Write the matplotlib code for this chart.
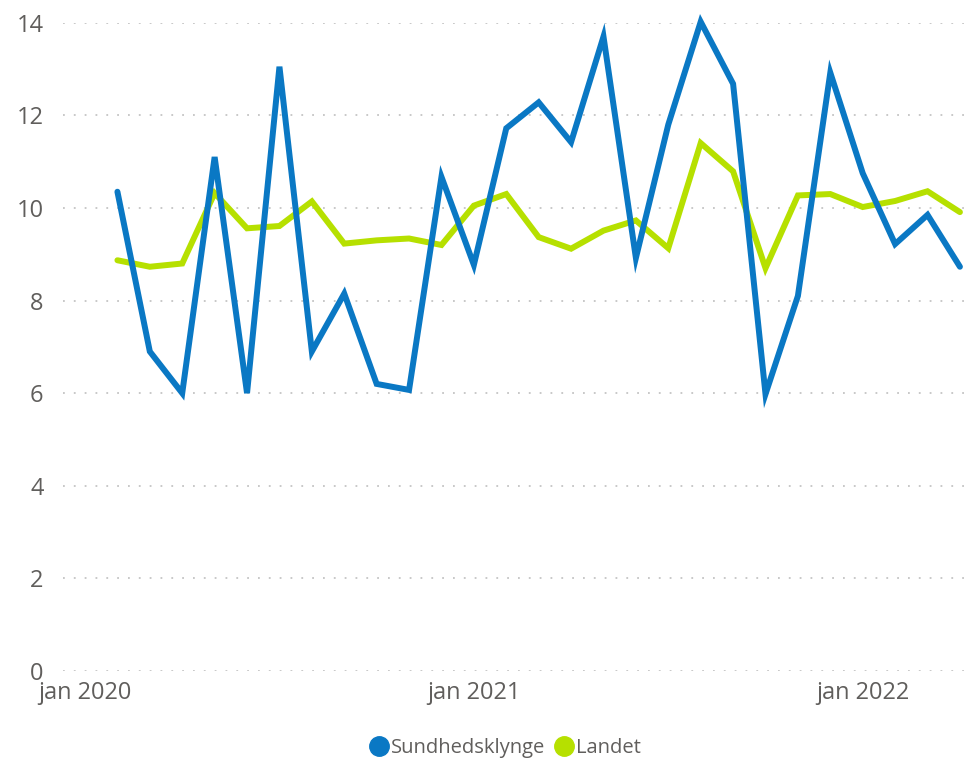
import matplotlib.pyplot as plt
import numpy as np

# months counted from jan 2020 (0); data runs feb 2020 .. apr 2022
months = list(range(1, 28))
sundhedsklynge = [10.35, 6.9, 6.0, 11.1, 6.0, 13.05, 6.9, 8.15, 6.2, 6.07, 10.67,
                  8.77, 11.72, 12.28, 11.42, 13.7, 8.92, 11.8, 14.02, 12.68,
                  5.98, 8.1, 12.92, 10.75, 9.22, 9.85, 8.73]
landet = [8.87, 8.73, 8.8, 10.32, 9.56, 9.61, 10.14, 9.23, 9.3, 9.34, 9.2,
          10.05, 10.3, 9.37, 9.12, 9.51, 9.73, 9.13, 11.4, 10.79,
          8.7, 10.27, 10.3, 10.02, 10.15, 10.36, 9.91]
tick_pos = [0, 12, 24]
tick_labels = ['jan 2020', 'jan 2021', 'jan 2022']
yticks = [0, 2, 4, 6, 8, 10, 12, 14]

plt.rcParams['font.family'] = ['Open Sans', 'DejaVu Sans']

fig = plt.figure(figsize=(9.69, 7.62), dpi=100, facecolor='white')
ax = fig.add_axes([0.065, 0.1194, 0.935, 0.8508])

blue = '#0A78C4'
green = '#B6E000'
ax.plot(months, landet, color=green, lw=4.3, solid_joinstyle='miter',
        solid_capstyle='round', clip_on=False, zorder=3)
ax.plot(months, sundhedsklynge, color=blue, lw=4.3, solid_joinstyle='miter',
        solid_capstyle='round', clip_on=False, zorder=4)

ax.set_xlim(-0.68, 27.28)
ax.set_ylim(0, 14)
ax.set_yticks(yticks)
ax.set_xticks(tick_pos)
ax.set_xticklabels(tick_labels)
ax.grid(axis='y', color='#c4c4c4', linestyle=(0, (1, 5)), linewidth=1.3)
ax.grid(axis='x', visible=False)
for s in ax.spines.values():
    s.set_visible(False)
ax.tick_params(axis='both', length=0, colors='#605E5C', labelsize=17)
ax.tick_params(axis='y', pad=14)
ax.tick_params(axis='x', pad=7)

# legend
h1 = plt.Line2D([], [], marker='o', ls='', color=blue, markersize=14)
h2 = plt.Line2D([], [], marker='o', ls='', color=green, markersize=14)
fig.legend([h1, h2], ['Sundhedsklynge', 'Landet'], loc='center',
           bbox_to_anchor=(0.52, 0.018), ncol=2, frameon=False,
           handletextpad=0.0, columnspacing=0.3, fontsize=14.5,
           labelcolor='#605E5C', handlelength=1.2)

fig.savefig('out.png', dpi=100, facecolor='white')
